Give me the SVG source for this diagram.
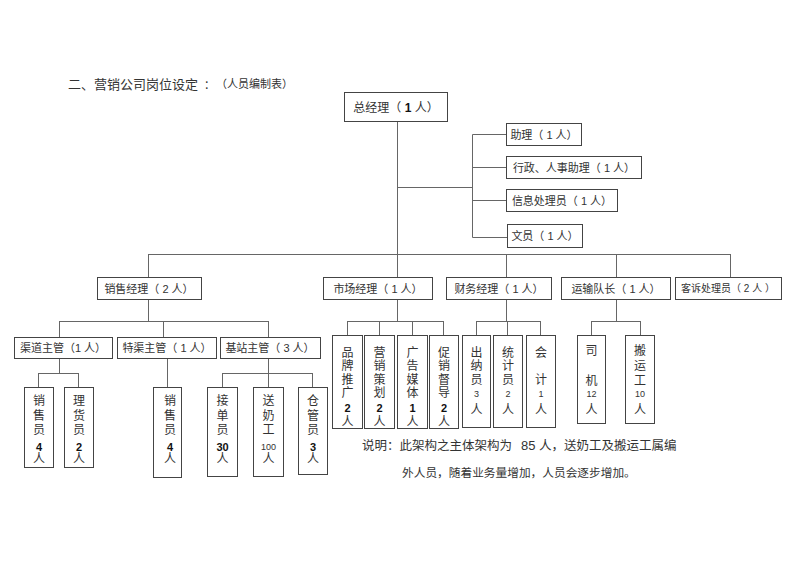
<svg xmlns="http://www.w3.org/2000/svg" width="800" height="566" viewBox="0 0 800 566">
<style>
.box{fill:#fff;stroke:#444;stroke-width:1}
.ln{fill:none;stroke:#666;stroke-width:1}
text{font-family:'Liberation Sans','Noto Sans CJK SC',sans-serif;fill:#333}
.t{font-size:11px;text-anchor:middle}
.v{font-size:12px;text-anchor:middle}
.n{font-size:11px;font-weight:bold;text-anchor:middle;fill:#111}
.s{font-size:9px;text-anchor:middle}
</style>
<rect width="800" height="566" fill="#fff"/>
<text x="68" y="89" font-size="13">二、营销公司岗位设定</text>
<text x="204" y="89" font-size="11">：</text>
<text x="216" y="88" font-size="11">（人员编制表）</text>

<g id="connectors">
<path class="ln" d="M397.5 122V254M397.5 187.5H472.5M472.5 134.5V237.5M472.5 134.5H506M472.5 167.5H506M472.5 200.5H506M472.5 237.5H507"/>
<path class="ln" d="M148.5 254.5H730.5M148.5 254V277M506.5 254V277M616.5 254V277M730.5 254V277M397.5 254V277"/>
<path class="ln" d="M148.5 299V321.5M59.5 321.5H268.5M59.5 321V337M163.5 321V337M268.5 321V337"/>
<path class="ln" d="M397.5 299V321.5M347.5 321.5H443.5M347.5 321V335M379.5 321V335M412.5 321V335M443.5 321V335"/>
<path class="ln" d="M506.5 299V321.5M476.5 321.5H540.5M476.5 321V335M507.5 321V335M540.5 321V335"/>
<path class="ln" d="M616.5 299V321.5M591.5 321.5H640.5M591.5 321V335M640.5 321V335"/>
<path class="ln" d="M59.5 358V373.5M38.5 373.5H78.5M38.5 373V387M78.5 373V387"/>
<path class="ln" d="M167.5 358V387"/>
<path class="ln" d="M268.5 358V373.5M222.5 373.5H312.5M222.5 373V387M268.5 373V387M312.5 373V387"/>
</g>

<g id="gm"><rect class="box" x="344.5" y="92.5" width="103" height="29"/><text x="396" y="112" font-size="12" text-anchor="middle">总经理（ <tspan font-weight="bold" fill="#111">1</tspan> 人）</text></g>

<g id="zhuli"><rect class="box" x="506.5" y="123.5" width="75" height="22"/><text class="t" x="544" y="138.5">助理（ 1 人）</text></g>
<g id="xingzheng"><rect class="box" x="506.5" y="156.5" width="135" height="22"/><text class="t" x="574" y="171.5">行政、人事助理（ 1 人）</text></g>
<g id="xinxi"><rect class="box" x="506.5" y="189.5" width="111" height="22"/><text class="t" x="562" y="204.5">信息处理员（ 1 人）</text></g>
<g id="wenyuan"><rect class="box" x="507.5" y="224.5" width="75" height="23"/><text class="t" x="545" y="240">文员（ 1 人）</text></g>

<g id="xiaoshou"><rect class="box" x="97.5" y="277.5" width="104" height="22"/><text class="t" x="149" y="292.5">销售经理（ 2 人）</text></g>
<g id="shichang"><rect class="box" x="323.5" y="277.5" width="109" height="22"/><text class="t" x="378" y="292.5">市场经理（ 1 人）</text></g>
<g id="caiwu"><rect class="box" x="446.5" y="277.5" width="105" height="22"/><text class="t" x="499" y="292.5">财务经理（ 1 人）</text></g>
<g id="yunshu"><rect class="box" x="561.5" y="277.5" width="109" height="22"/><text class="t" x="616" y="292.5">运输队长（ 1 人）</text></g>
<g id="kesu"><rect class="box" x="675.5" y="277.5" width="106" height="22"/><text x="728" y="292" font-size="10" text-anchor="middle">客诉处理员（ 2 人 ）</text></g>

<g id="qudao"><rect class="box" x="14.5" y="337.5" width="98" height="21"/><text class="t" x="63" y="352">渠道主管（1 人）</text></g>
<g id="tequ"><rect class="box" x="117.5" y="337.5" width="99" height="21"/><text class="t" x="167" y="352">特渠主管（ 1 人）</text></g>
<g id="jizhan"><rect class="box" x="220.5" y="337.5" width="100" height="21"/><text class="t" x="270" y="352">基站主管（ 3 人）</text></g>

<g id="pinpai"><rect class="box" x="332.5" y="335.5" width="30" height="93"/><text class="v" x="347.5" y="356.5">品</text><text class="v" x="347.5" y="370">牌</text><text class="v" x="347.5" y="383.5">推</text><text class="v" x="347.5" y="397">广</text><text class="n" x="347.5" y="412">2</text><text class="v" x="347.5" y="426">人</text></g>
<g id="yingxiao"><rect class="box" x="364.5" y="335.5" width="30" height="93"/><text class="v" x="379.5" y="356.5">营</text><text class="v" x="379.5" y="370">销</text><text class="v" x="379.5" y="383.5">策</text><text class="v" x="379.5" y="397">划</text><text class="n" x="379.5" y="412">2</text><text class="v" x="379.5" y="426">人</text></g>
<g id="guanggao"><rect class="box" x="397.5" y="335.5" width="30" height="93"/><text class="v" x="412.5" y="356.5">广</text><text class="v" x="412.5" y="370">告</text><text class="v" x="412.5" y="383.5">媒</text><text class="v" x="412.5" y="397">体</text><text class="n" x="412.5" y="412">1</text><text class="v" x="412.5" y="426">人</text></g>
<g id="cuxiao"><rect class="box" x="429.5" y="335.5" width="29" height="93"/><text class="v" x="444" y="356.5">促</text><text class="v" x="444" y="370">销</text><text class="v" x="444" y="383.5">督</text><text class="v" x="444" y="397">导</text><text class="n" x="444" y="412">2</text><text class="v" x="444" y="426">人</text></g>

<g id="chuna"><rect class="box" x="462.5" y="335.5" width="28" height="92"/><text class="v" x="476.5" y="356.5">出</text><text class="v" x="476.5" y="370">纳</text><text class="v" x="476.5" y="383.5">员</text><text class="s" x="476.5" y="396.5">3</text><text class="v" x="476.5" y="414">人</text></g>
<g id="tongji"><rect class="box" x="493.5" y="335.5" width="29" height="92"/><text class="v" x="508" y="356.5">统</text><text class="v" x="508" y="370">计</text><text class="v" x="508" y="383.5">员</text><text class="s" x="508" y="396.5">2</text><text class="v" x="508" y="414">人</text></g>
<g id="kuaiji"><rect class="box" x="526.5" y="335.5" width="29" height="92"/><text class="v" x="541" y="356.5">会</text><text class="v" x="541" y="383.5">计</text><text class="s" x="541" y="396.5">1</text><text class="v" x="541" y="414">人</text></g>

<g id="siji"><rect class="box" x="577.5" y="335.5" width="28" height="88"/><text class="v" x="591.5" y="354.5">司</text><text class="v" x="591.5" y="384.5">机</text><text class="s" x="591.5" y="397">12</text><text class="v" x="591.5" y="414">人</text></g>
<g id="banyun"><rect class="box" x="625.5" y="335.5" width="29" height="88"/><text class="v" x="640" y="354.5">搬</text><text class="v" x="640" y="369.5">运</text><text class="v" x="640" y="384.5">工</text><text class="s" x="640" y="397">10</text><text class="v" x="640" y="414">人</text></g>

<g id="xiaoshouyuan1"><rect class="box" x="24.5" y="387.5" width="29" height="80"/><text class="v" x="39" y="405">销</text><text class="v" x="39" y="419.5">售</text><text class="v" x="39" y="434">员</text><text class="n" x="39" y="451">4</text><text class="v" x="39" y="463">人</text></g>
<g id="lihuoyuan"><rect class="box" x="64.5" y="387.5" width="29" height="80"/><text class="v" x="79" y="405">理</text><text class="v" x="79" y="419.5">货</text><text class="v" x="79" y="434">员</text><text class="n" x="79" y="451">2</text><text class="v" x="79" y="463">人</text></g>
<g id="xiaoshouyuan2"><rect class="box" x="153.5" y="387.5" width="28" height="90"/><text class="v" x="170" y="405">销</text><text class="v" x="170" y="419.5">售</text><text class="v" x="170" y="434">员</text><text class="n" x="170" y="451">4</text><text class="v" x="170" y="463">人</text></g>
<g id="jiedan"><rect class="box" x="207.5" y="387.5" width="30" height="89"/><text class="v" x="222.5" y="405">接</text><text class="v" x="222.5" y="419.5">单</text><text class="v" x="222.5" y="434">员</text><text class="n" x="222.5" y="451">30</text><text class="v" x="222.5" y="463">人</text></g>
<g id="songnai"><rect class="box" x="253.5" y="387.5" width="30" height="89"/><text class="v" x="268.5" y="405">送</text><text class="v" x="268.5" y="419.5">奶</text><text class="v" x="268.5" y="434">工</text><text class="s" x="268.5" y="450">100</text><text class="v" x="268.5" y="463">人</text></g>
<g id="cangguan"><rect class="box" x="298.5" y="387.5" width="29" height="87"/><text class="v" x="313" y="405">仓</text><text class="v" x="313" y="419.5">管</text><text class="v" x="313" y="434">员</text><text class="n" x="313" y="451">3</text><text class="v" x="313" y="463">人</text></g>

<text x="362" y="449.5" font-size="12.5">说明：此架构之主体架构为<tspan dx="9" font-size="13">85</tspan> 人，送奶工及搬运工属编</text>
<text x="402" y="476.5" font-size="11.7">外人员，随着业务量增加，人员会逐步增加。</text>
</svg>
